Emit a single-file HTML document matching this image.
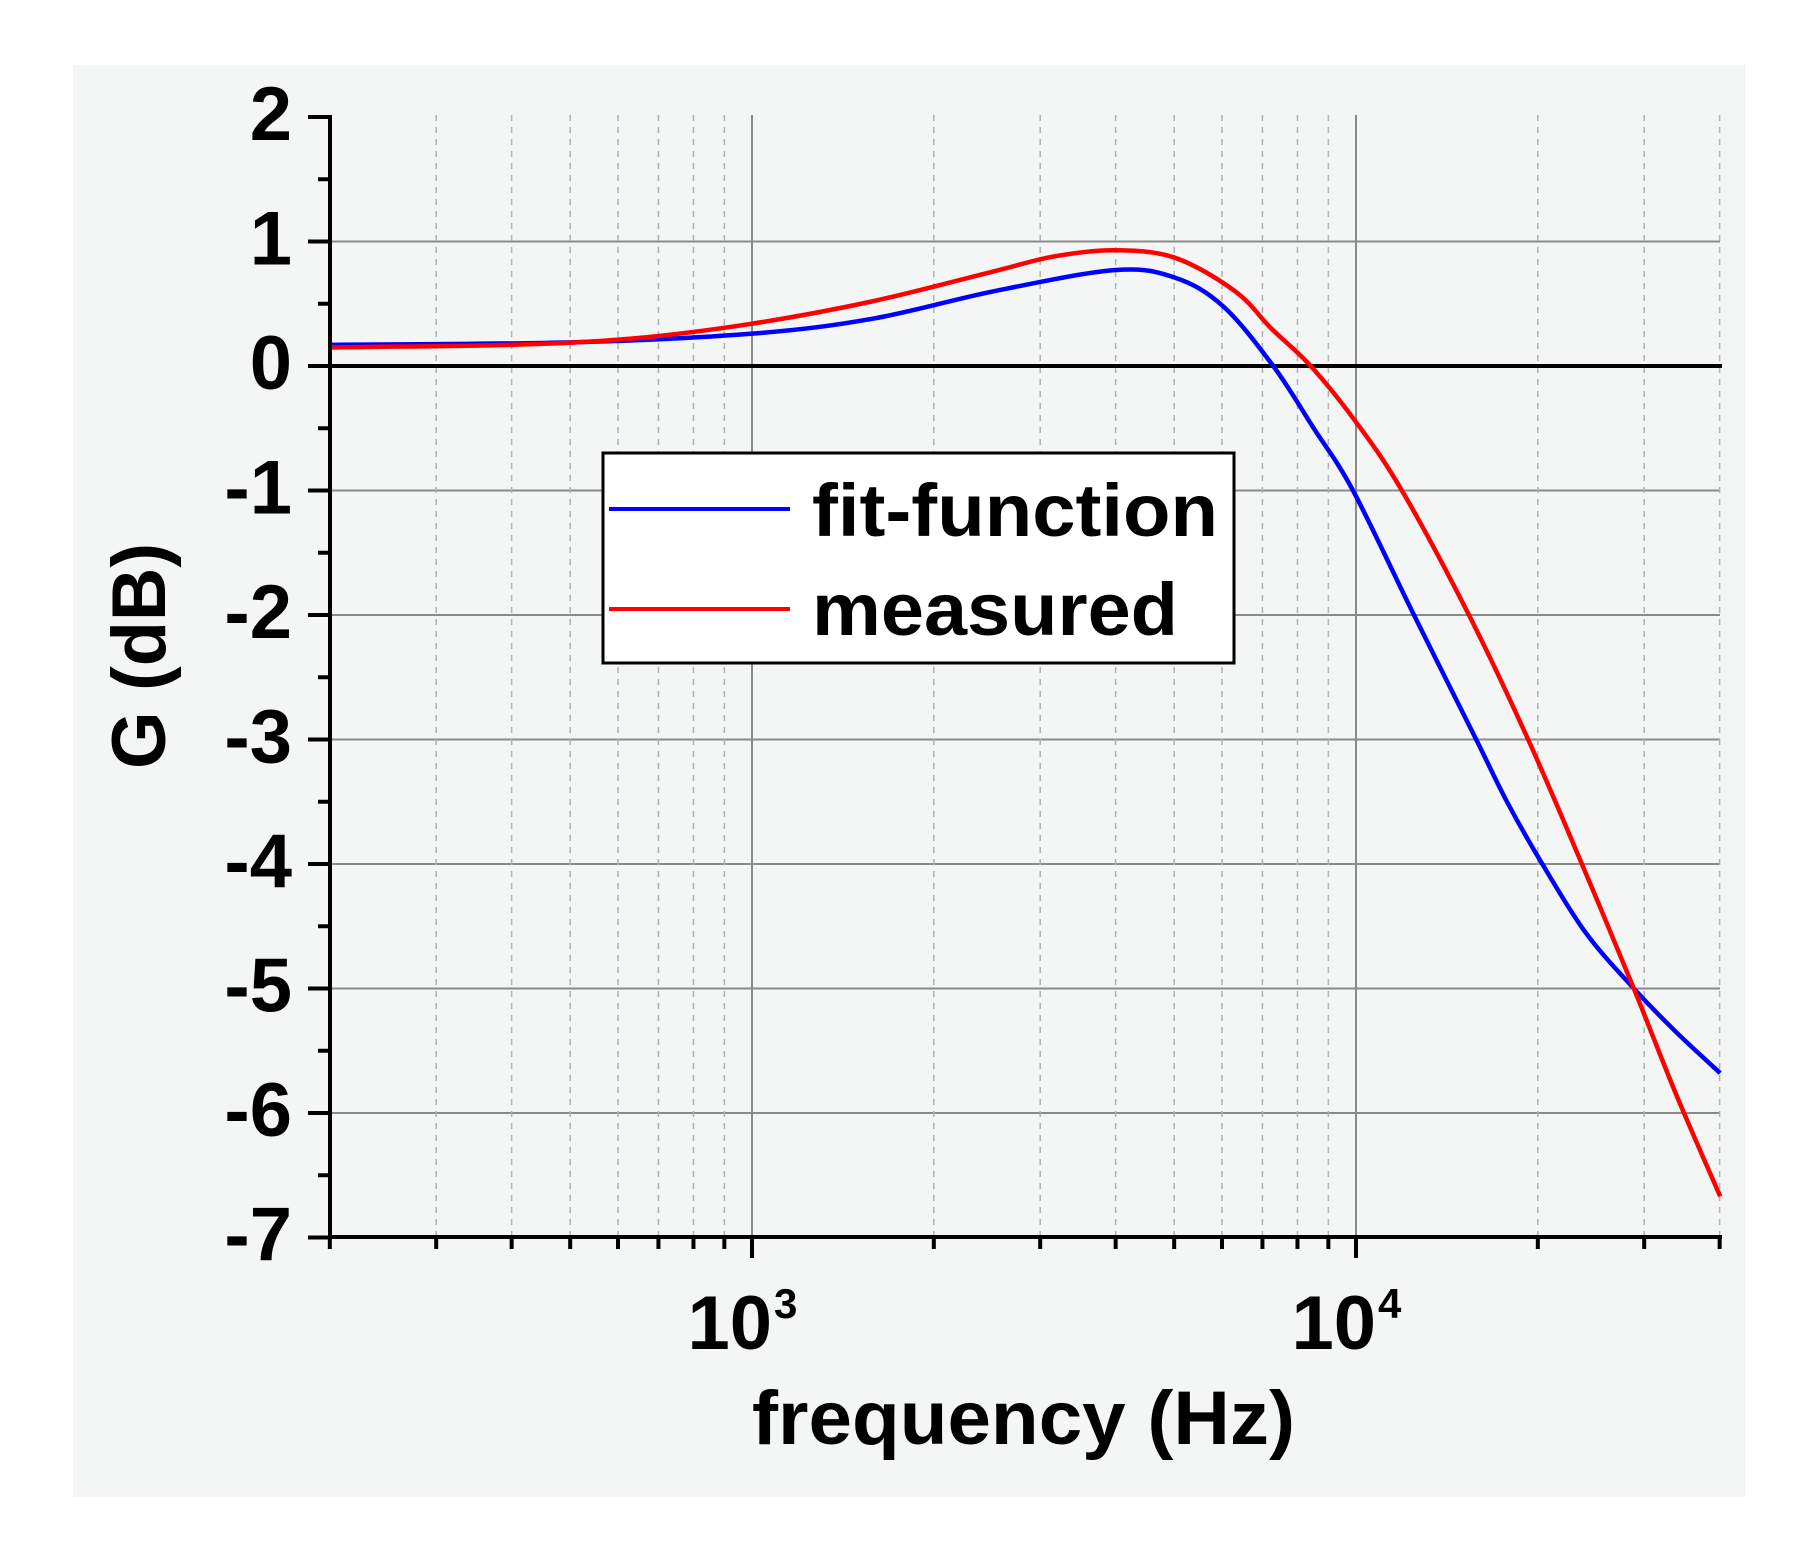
<!DOCTYPE html>
<html><head><meta charset="utf-8"><style>
html,body{margin:0;padding:0;background:#fff;}
svg{display:block;}
text{font-family:"Liberation Sans",Arial,sans-serif;font-weight:bold;fill:#000;}
</style></head><body>
<svg id="s" width="1803" height="1549" viewBox="0 0 1803 1549" xmlns="http://www.w3.org/2000/svg">
<rect x="73" y="65" width="1672" height="1432" fill="#f4f6f6"/>
<g id="grid"></g>
<line x1="330" y1="366" x2="1722" y2="366" stroke="#000" stroke-width="4"/>
<g id="curves"></g>
<line x1="330" y1="115" x2="330" y2="1239" stroke="#000" stroke-width="4"/>
<line x1="328" y1="1237" x2="1722" y2="1237" stroke="#000" stroke-width="4"/>
<g id="ticks"></g>
<g font-size="76" text-anchor="end" id="ylab"></g>
<text x="752" y="1349" font-size="76" text-anchor="end" dx="20">10</text>
<text x="774" y="1318" font-size="42">3</text>
<text x="1356" y="1349" font-size="76" text-anchor="end" dx="20">10</text>
<text x="1378" y="1318" font-size="42">4</text>
<text x="752" y="1444" font-size="76" textLength="543" lengthAdjust="spacingAndGlyphs">frequency (Hz)</text>
<text transform="translate(165,656) rotate(-90)" font-size="76" text-anchor="middle" textLength="226" lengthAdjust="spacingAndGlyphs">G (dB)</text>
<rect x="603" y="453" width="631" height="210" fill="#fff" stroke="#000" stroke-width="3"/>
<line x1="609" y1="509" x2="790" y2="509" stroke="#0000ff" stroke-width="4"/>
<line x1="609" y1="609" x2="790" y2="609" stroke="#ff0000" stroke-width="4"/>
<text x="812" y="536" font-size="74" textLength="406" lengthAdjust="spacingAndGlyphs">fit-function</text>
<text x="812" y="635" font-size="74" textLength="366" lengthAdjust="spacingAndGlyphs">measured</text>
</svg>
<script>
var NS="http://www.w3.org/2000/svg";
function X(l){return 752+(l-3)*604;}
function Y(d){return 366-d*124.5;}
function el(p,t,a){var e=document.createElementNS(NS,t);for(var k in a)e.setAttribute(k,a[k]);p.appendChild(e);return e;}
var g=document.getElementById('grid'),tk=document.getElementById('ticks'),yl=document.getElementById('ylab');
for(var d=2;d>=-7;d--){
 if(d!==0&&d!==-7&&d!==2) el(g,'line',{x1:330,y1:Y(d),x2:1720,y2:Y(d),stroke:'#8a8a8a','stroke-width':2});
 el(tk,'line',{x1:308,y1:Y(d),x2:330,y2:Y(d),stroke:'#000','stroke-width':4});
 if(d>-7) el(tk,'line',{x1:318,y1:Y(d-0.5),x2:330,y2:Y(d-0.5),stroke:'#000','stroke-width':4});
 var t=el(yl,'text',{x:292,y:Y(d)+23});t.textContent=(d<0?'-':'')+Math.abs(d);
}
var decs=[2,3,4];
for(var i=0;i<decs.length;i++){for(var m=1;m<=9;m++){
 var f=m*Math.pow(10,decs[i]);if(f<200||f>40000)continue;var l=Math.log10(f),x=X(l);
 if(m===1){el(g,'line',{x1:x,y1:115,x2:x,y2:1237,stroke:'#8a8a8a','stroke-width':2});
  el(tk,'line',{x1:x,y1:1237,x2:x,y2:1258,stroke:'#000','stroke-width':4});}
 else{el(g,'line',{x1:x,y1:115,x2:x,y2:1237,stroke:'#b0b0b0','stroke-width':1.5,'stroke-dasharray':'6,6'});
  el(tk,'line',{x1:x,y1:1237,x2:x,y2:1249,stroke:'#000','stroke-width':4});}
}}
function path(pts){var P=pts.map(function(p){return [X(p[0]),Y(p[1])];});
 var s='M'+P[0][0]+','+P[0][1];
 for(var i=0;i<P.length-1;i++){var p0=P[i-1]||P[i],p1=P[i],p2=P[i+1],p3=P[i+2]||p2;
  s+=' C'+(p1[0]+(p2[0]-p0[0])/6)+','+(p1[1]+(p2[1]-p0[1])/6)+' '+(p2[0]-(p3[0]-p1[0])/6)+','+(p2[1]-(p3[1]-p1[1])/6)+' '+p2[0]+','+p2[1];}
 return s;}
var blue=[[2.301,0.17],[2.7,0.19],[3,0.26],[3.2,0.38],[3.4,0.6],[3.6,0.77],[3.7,0.71],[3.78,0.48],[3.863,0],[3.93,-0.5],[3.995,-1],[4.096,-2],[4.199,-3],[4.25,-3.5],[4.306,-3.98],[4.38,-4.55],[4.46,-5],[4.53,-5.35],[4.603,-5.68]];
var red=[[2.301,0.15],[2.6,0.17],[2.8,0.22],[3,0.34],[3.2,0.52],[3.4,0.76],[3.5,0.88],[3.6,0.93],[3.7,0.87],[3.8,0.6],[3.86,0.3],[3.925,0],[4.0,-0.45],[4.076,-1],[4.187,-2],[4.285,-3],[4.374,-4],[4.46,-5],[4.53,-5.85],[4.603,-6.67]];
var c=document.getElementById('curves');
el(c,'path',{d:path(blue),fill:'none',stroke:'#0000ff','stroke-width':4.5});
el(c,'path',{d:path(red),fill:'none',stroke:'#ff0000','stroke-width':4.5});
</script>
</body></html>
